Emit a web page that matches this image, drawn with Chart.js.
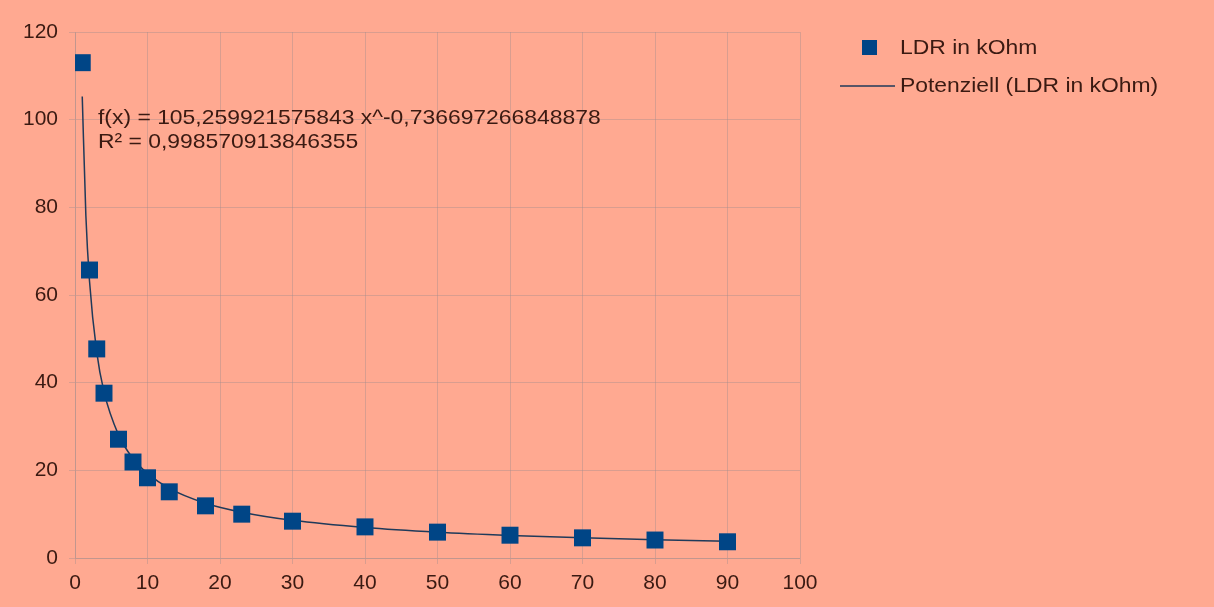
<!DOCTYPE html>
<html>
<head>
<meta charset="utf-8">
<script src="https://cdn.jsdelivr.net/npm/chart.js@4"></script>
<style>
  html, body { margin: 0; padding: 0; background: #ffa991; }
  #wrap { width: 1214px; height: 607px; }
</style>
</head>
<body>
<div id="wrap"><canvas id="ldrChart" width="1214" height="607"></canvas></div>
<script>
// Messwerte
const lux = [1, 2, 3, 4, 6, 8, 10, 13, 18, 23, 30, 40, 50, 60, 70, 80, 90];
const ldrKOhm = [113, 65.7, 47.7, 37.6, 27.1, 21.9, 18.3, 15.1, 11.9, 10.0, 8.4, 7.1, 5.9, 5.2, 4.6, 4.1, 3.7];

// Trendlinie
const trendX = [1, 1.5, 2, 3, 4, 6, 8, 10, 13, 18, 23, 30, 40, 50, 60, 70, 80, 90];
const trendY = [105.3, 78.1, 63.2, 46.9, 37.9, 28.1, 22.7, 19.3, 15.9, 12.5, 10.45, 8.59, 6.95, 5.89, 5.16, 4.6, 4.17, 3.82];

const xTicks = [0, 10, 20, 30, 40, 50, 60, 70, 80, 90, 100];
const yTicks = [0, 20, 40, 60, 80, 100, 120];

const equationText = ['f(x) = 105,259921575843 x^-0,736697266848878', 'R\u00B2 = 0,998570913846355'];
const legendLabels = ['LDR in kOhm', 'Potenziell (LDR in kOhm)'];

const blue = '#004586';
const textColor = '#3a1a12';
const font = 'Liberation Sans, Arial, sans-serif';
const gridColor = 'rgba(160,140,140,0.4)';

const background = {
  id: 'background',
  beforeDraw(chart) {
    const c = chart.ctx;
    c.save();
    c.fillStyle = '#ffa991';
    c.fillRect(0, 0, chart.width, chart.height);
    c.restore();
  }
};

// text etwas breiter, wie im Original
function wideText(c, txt, x, y) {
  c.save();
  c.translate(x, y);
  c.scale(1.09, 1);
  c.fillText(txt, 0, 0);
  c.restore();
}

const extras = {
  id: 'extras',
  afterDraw(chart) {
    const c = chart.ctx;
    c.save();
    c.font = '21px ' + font;
    c.fillStyle = textColor;
    c.textBaseline = 'middle';
    wideText(c, equationText[0], 98, 118);
    wideText(c, equationText[1], 98, 142);

    // legend
    c.fillStyle = blue;
    c.fillRect(862, 40, 15, 15);
    c.fillStyle = textColor;
    wideText(c, legendLabels[0], 900, 48);
    c.strokeStyle = '#1f3a5a';
    c.lineWidth = 1.5;
    c.beginPath();
    c.moveTo(840, 86);
    c.lineTo(895, 86);
    c.stroke();
    wideText(c, legendLabels[1], 900, 86);
    c.restore();
  }
};

new Chart(document.getElementById('ldrChart'), {
  type: 'scatter',
  data: {
    datasets: [{
      label: legendLabels[0],
      data: lux.map((x, i) => ({ x: x, y: ldrKOhm[i] })),
      pointStyle: 'rect',
      pointRadius: 12,
      pointHoverRadius: 12,
      backgroundColor: blue,
      borderColor: blue,
      borderWidth: 0
    }, {
      label: legendLabels[1],
      data: trendX.map((x, i) => ({ x: x, y: trendY[i] })),
      showLine: true,
      pointRadius: 0,
      borderColor: '#1f3a5a',
      borderWidth: 1.5,
      cubicInterpolationMode: 'monotone'
    }]
  },
  options: {
    responsive: false,
    animation: false,
    devicePixelRatio: 1,
    layout: { padding: { top: 32, right: 414, left: 0, bottom: 0 } },
    plugins: {
      legend: { display: false },
      tooltip: { enabled: false }
    },
    scales: {
      x: {
        type: 'linear',
        min: 0,
        max: 100,
        afterBuildTicks: s => { s.ticks = xTicks.map(v => ({ value: v })); },
        afterFit: s => { s.height = 49; },
        grid: { color: gridColor, tickLength: 6, drawTicks: true },
        border: { color: gridColor },
        ticks: { color: textColor, font: { family: font, size: 21 }, padding: 7 }
      },
      y: {
        type: 'linear',
        min: 0,
        max: 120,
        afterBuildTicks: s => { s.ticks = yTicks.map(v => ({ value: v })); },
        afterFit: s => { s.width = 75; },
        grid: { color: gridColor, tickLength: 6, drawTicks: true },
        border: { color: gridColor },
        ticks: { color: textColor, font: { family: font, size: 21 }, padding: 11 }
      }
    }
  },
  plugins: [background, extras]
});
</script>
</body>
</html>
